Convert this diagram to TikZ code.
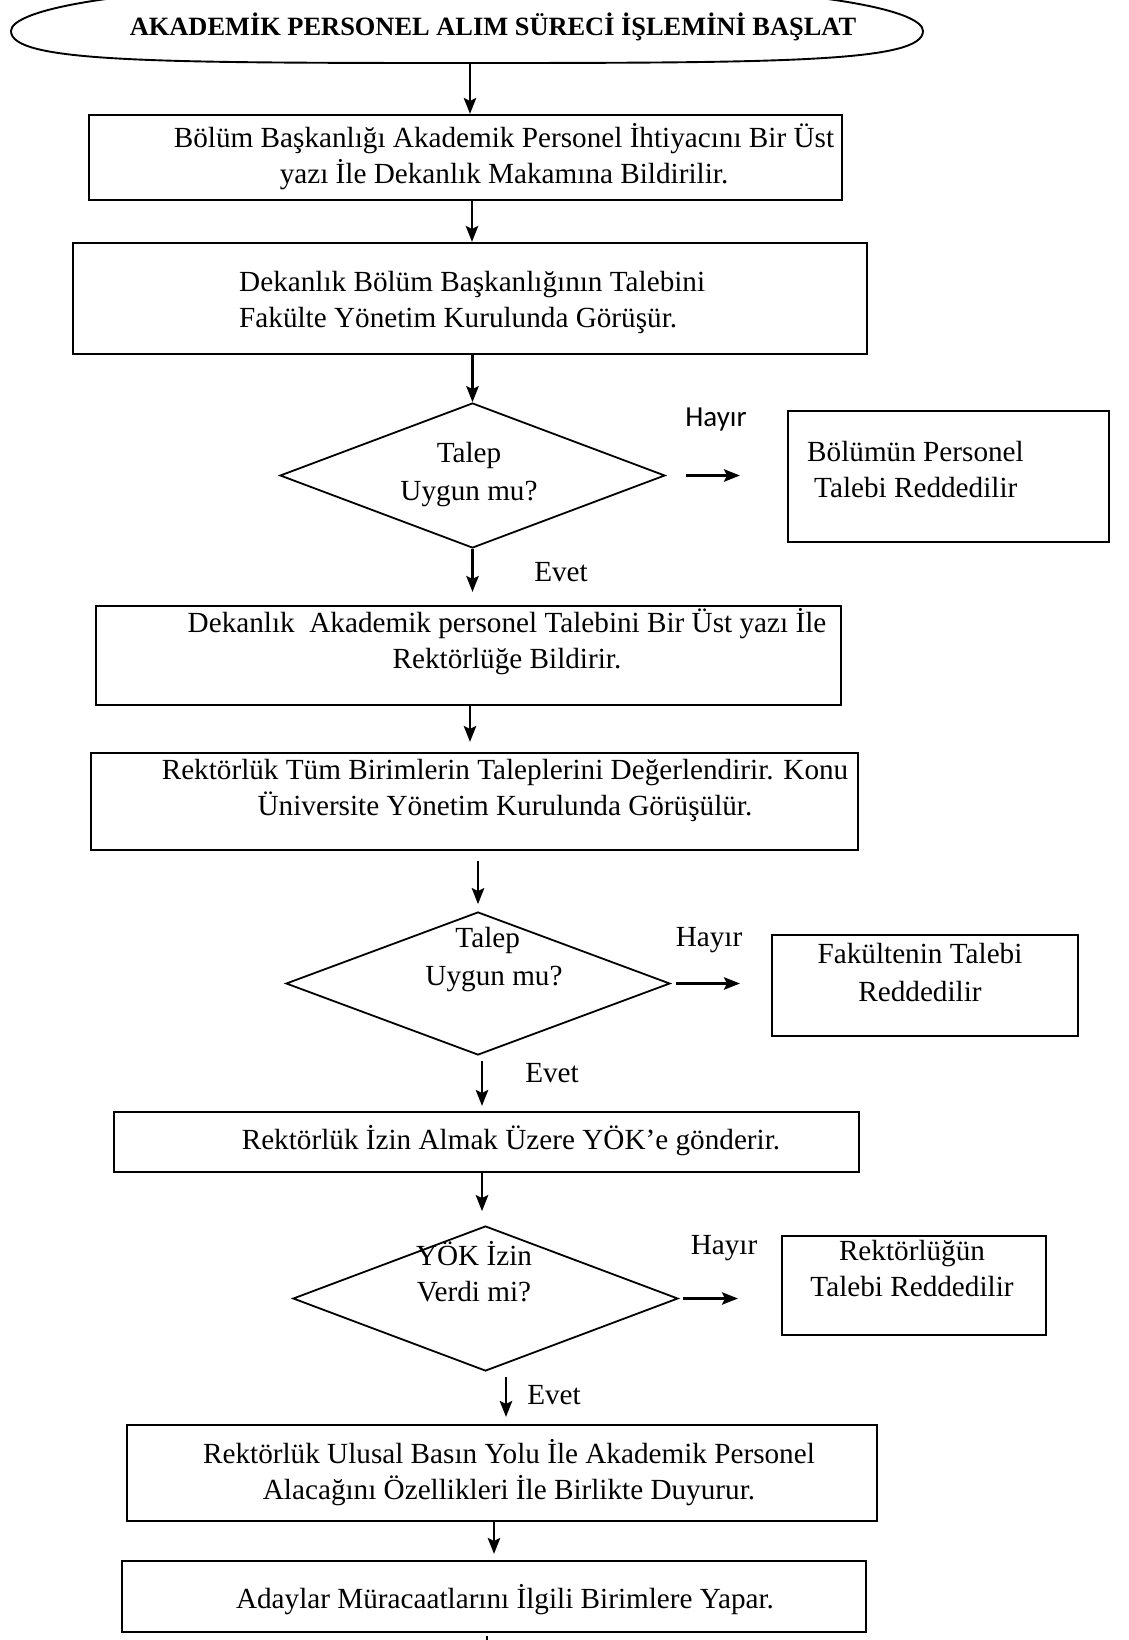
\documentclass[tikz,border=0pt]{standalone}
\usepackage{fontspec}
\setmainfont{Liberation Serif}
\newfontfamily\sansf{Carlito}
\usetikzlibrary{shapes.geometric,arrows.meta}
\tikzset{
  box/.style={draw, line width=2.2pt, rectangle, inner sep=0pt},
  dia/.style={draw, line width=1.8pt, diamond, inner sep=0pt},
  txt/.style={font=\fontsize{29.2}{36}\selectfont, align=center, inner sep=0pt},
  lbl/.style={font=\fontsize{29.2}{36}\selectfont, inner sep=0pt},
  slbl/.style={font=\sansf\fontsize{29}{35}\selectfont, inner sep=0pt},
  arr/.style={line width=2.1pt, -{Stealth[length=16pt,width=12.5pt,inset=3pt]}},
}
\begin{document}
\begin{tikzpicture}[x=1pt,y=-1pt]
\useasboundingbox (0,0) rectangle (1128,1640);
\clip (0,0) rectangle (1128,1640);

% start terminator
\draw[line width=1.9pt] (11,31) .. controls (11,10) and (120,-18) .. (467,-18)
  .. controls (814,-18) and (923,10) .. (923,31)
  .. controls (923,62) and (784,63) .. (467,63)
  .. controls (150,63) and (11,62) .. (11,31) -- cycle;
\node[inner sep=0pt, font=\bfseries\fontsize{26.4}{32}\selectfont] (t0) at (493,27) {AKADEM\.IK PERSONEL ALIM SÜREC\.I \.IŞLEM\.IN\.I BAŞLAT};
\coordinate (ebot) at (470,62);

% boxes
\node[box, minimum width=753, minimum height=85] (b1) at (465.5,157.5) {};
\node[box, minimum width=794, minimum height=111] (b2) at (470,298.5) {};
\node[dia, minimum width=385, minimum height=145] (d1) at (472.5,475.5) {};
\node[box, minimum width=321, minimum height=131] (r1) at (948.5,476.5) {};
\node[box, minimum width=745, minimum height=99] (b3) at (468.5,655.5) {};
\node[box, minimum width=767, minimum height=97] (b4) at (474.5,801.5) {};
\node[dia, minimum width=384, minimum height=143] (d2) at (478,983.5) {};
\node[box, minimum width=306, minimum height=101] (r2) at (925,985.5) {};
\node[box, minimum width=745, minimum height=60] (b5) at (486.5,1142) {};
\node[dia, minimum width=385, minimum height=145] (d3) at (485.5,1298.5) {};
\node[box, minimum width=264, minimum height=99] (r3) at (914,1285.5) {};
\node[box, minimum width=750, minimum height=96] (b6) at (502,1473) {};
\node[box, minimum width=744, minimum height=71] (b7) at (494,1596.5) {};

% texts
\node[txt] (t1) at (504,157) {Bölüm Başkanlığı Akademik Personel \.Ihtiyacını Bir Üst\\yazı \.Ile Dekanlık Makamına Bildirilir.};
\node[txt, anchor=west, align=left] (t2) at (239,302) {Dekanlık Bölüm Başkanlığının Talebini\\Fakülte Yönetim Kurulunda Görüşür.};
\node[txt] (td1) at (469,475) {Talep\\[2pt]Uygun mu?};
\node[txt, anchor=west, align=left] (tr1) at (807,470) {Bölümün Personel\\\hspace*{7pt}Talebi Reddedilir};
\node[txt] (t3) at (507,642) {Dekanlık\ \ Akademik personel Talebini Bir Üst yazı \.Ile\\Rektörlüğe Bildirir.};
\node[txt] (t4) at (505,790) {Rektörlük Tüm Birimlerin Taleplerini Değerlendirir. Konu\\Üniversite Yönetim Kurulunda Görüşülür.};
\node[txt, align=left] (td2) at (494,960) {\hspace*{30pt}Talep\\[2pt]Uygun mu?};
\node[txt] (tr2) at (920,973) {Fakültenin Talebi\\[2pt]Reddedilir};
\node[txt] (t5) at (511,1141) {Rektörlük \.Izin Almak Üzere YÖK’e gönderir.};
\node[txt] (td3) at (474,1272) {YÖK \.Izin\\Verdi mi?};
\node[txt] (tr3) at (912,1268) {Rektörlüğün\\Talebi Reddedilir};
\node[txt] (t6) at (509,1473) {Rektörlük Ulusal Basın Yolu \.Ile Akademik Personel\\Alacağını Özellikleri \.Ile Birlikte Duyurur.};
\node[txt] (t7) at (505,1600) {Adaylar Müracaatlarını \.Ilgili Birimlere Yapar.};

% labels
\node[slbl] (h1) at (716,420) {Hayır};
\node[lbl] (e1) at (561,572) {Evet};
\node[lbl] (h2) at (709,940) {Hayır};
\node[lbl] (e2) at (552,1073) {Evet};
\node[lbl] (h3) at (724,1248) {Hayır};
\node[lbl] (e3) at (554,1395) {Evet};

% arrow columns
\coordinate (c1) at (470,0);
\coordinate (c2) at (472,0);
\coordinate (c5) at (470,0);
\coordinate (c7) at (482,0);
\coordinate (c9) at (506,0);
\coordinate (c10) at (494,0);
\coordinate (c11) at (487,0);
\coordinate (bot) at (487,1642);

% vertical connectors
\draw[arr] (ebot) -- (b1.north -| c1);
\draw[arr] (b1.south -| c2) -- (b2.north -| c2);
\draw[arr] (b2.south -| d1.north) -- (d1.north);
\draw[arr, shorten >=13pt] (d1.south) -- (d1.south |- b3.north);
\draw[arr, shorten >=10pt] (b3.south -| c5) -- (b4.north -| c5);
\draw[arr, shorten <=10pt, shorten >=7pt] (b4.south -| d2.north) -- (d2.north);
\draw[arr, shorten <=5pt, shorten >=5pt] (d2.south -| c7) -- (b5.north -| c7);
\draw[arr, shorten >=14pt] (b5.south -| c7) -- (d3.north -| c7);
\draw[arr, shorten <=5pt, shorten >=7pt] (d3.south -| c9) -- (b6.north -| c9);
\draw[arr, shorten >=6pt] (b6.south -| c10) -- (b7.north -| c10);
\draw[line width=2pt, shorten <=3pt] (b7.south -| c11) -- (bot);

% horizontal connectors
\draw[arr, shorten <=20pt, shorten >=47pt] (d1.east) -- (d1.east -| r1.west);
\draw[arr, shorten <=5pt, shorten >=31pt] (d2.east) -- (d2.east -| r2.west);
\draw[arr, shorten <=4pt, shorten >=43pt] (d3.east) -- (d3.east -| r3.west);
\end{tikzpicture}
\end{document}
